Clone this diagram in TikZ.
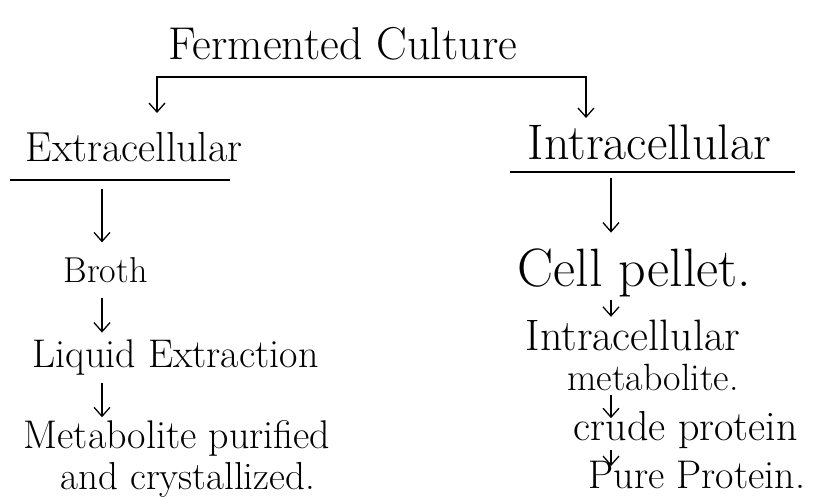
\documentclass[tikz,border=0pt]{standalone}
\usetikzlibrary{arrows.meta}
\tikzset{
  lbl/.style={inner sep=0pt,anchor=base west,font=\fontsize{#1}{#1}\selectfont},
}
\begin{document}
\begin{tikzpicture}[x=1pt,y=-1pt,line width=1.3pt,>={Straight Barb[length=9pt,width=16pt]}]
			\useasboundingbox (0,0) rectangle (833,497);
			% heading and the two branches
			\node[lbl=46] (title) at (168,60) {Fermented Culture};
			\node[lbl=42] (ext) at (25,162) {Extracellular};
			\node[lbl=50] (int) at (527,160) {Intracellular};
			\coordinate (fork) at (372,77);
			\coordinate (extin) at (157,113);
			\coordinate (intin) at (586,118);
			\draw[->](fork)-|(extin);
			\draw[->](fork)-|(intin);
			\draw(10,180)--(230,180);
			\draw(510,172)--(795,172);
			% extracellular steps
			\node[lbl=36] (broth) at (63,283) {Broth};
			\node[lbl=40] (liq) at (32,367) {Liquid Extraction};
			\node[lbl=40] (met) at (23,448) {Metabolite purified};
			\node[lbl=39] (cry) at (60,489) {and crystallized.};
			\coordinate (lcol) at (102,0);
			\draw[->,shorten <=26pt,shorten >=15pt](ext.south-|lcol)--(broth.north-|lcol);
			\draw[->,shorten <=14pt,shorten >=6pt](broth.south-|lcol)--(liq.north-|lcol);
			\draw[->,shorten <=8pt,shorten >=2pt](liq.south-|lcol)--(met.north-|lcol);
			% intracellular steps
			\node[lbl=54] (cell) at (517,287) {Cell pellet.};
			\node[lbl=44] (intm) at (525,350) {Intracellular};
			\node[lbl=38] (meta) at (567,390) {metabolite.};
			\node[lbl=42] (crude) at (573,440) {crude protein};
			\node[lbl=40] (pure) at (588,488) {Pure Protein.};
			\coordinate (rcol) at (611,0);
			\draw[->,shorten <=17pt,shorten >=16pt](int.south-|rcol)--(cell.north-|rcol);
			\draw[->,shorten <=2pt,shorten >=2pt](cell.south-|rcol)--(intm.north-|rcol);
			\draw[->,shorten <=4pt,shorten >=-8pt](meta.south-|rcol)--(crude.north-|rcol);
			\draw[->,shorten <=1pt,shorten >=-6pt](crude.south-|rcol)--(pure.north-|rcol);
		\end{tikzpicture}
\end{document}
